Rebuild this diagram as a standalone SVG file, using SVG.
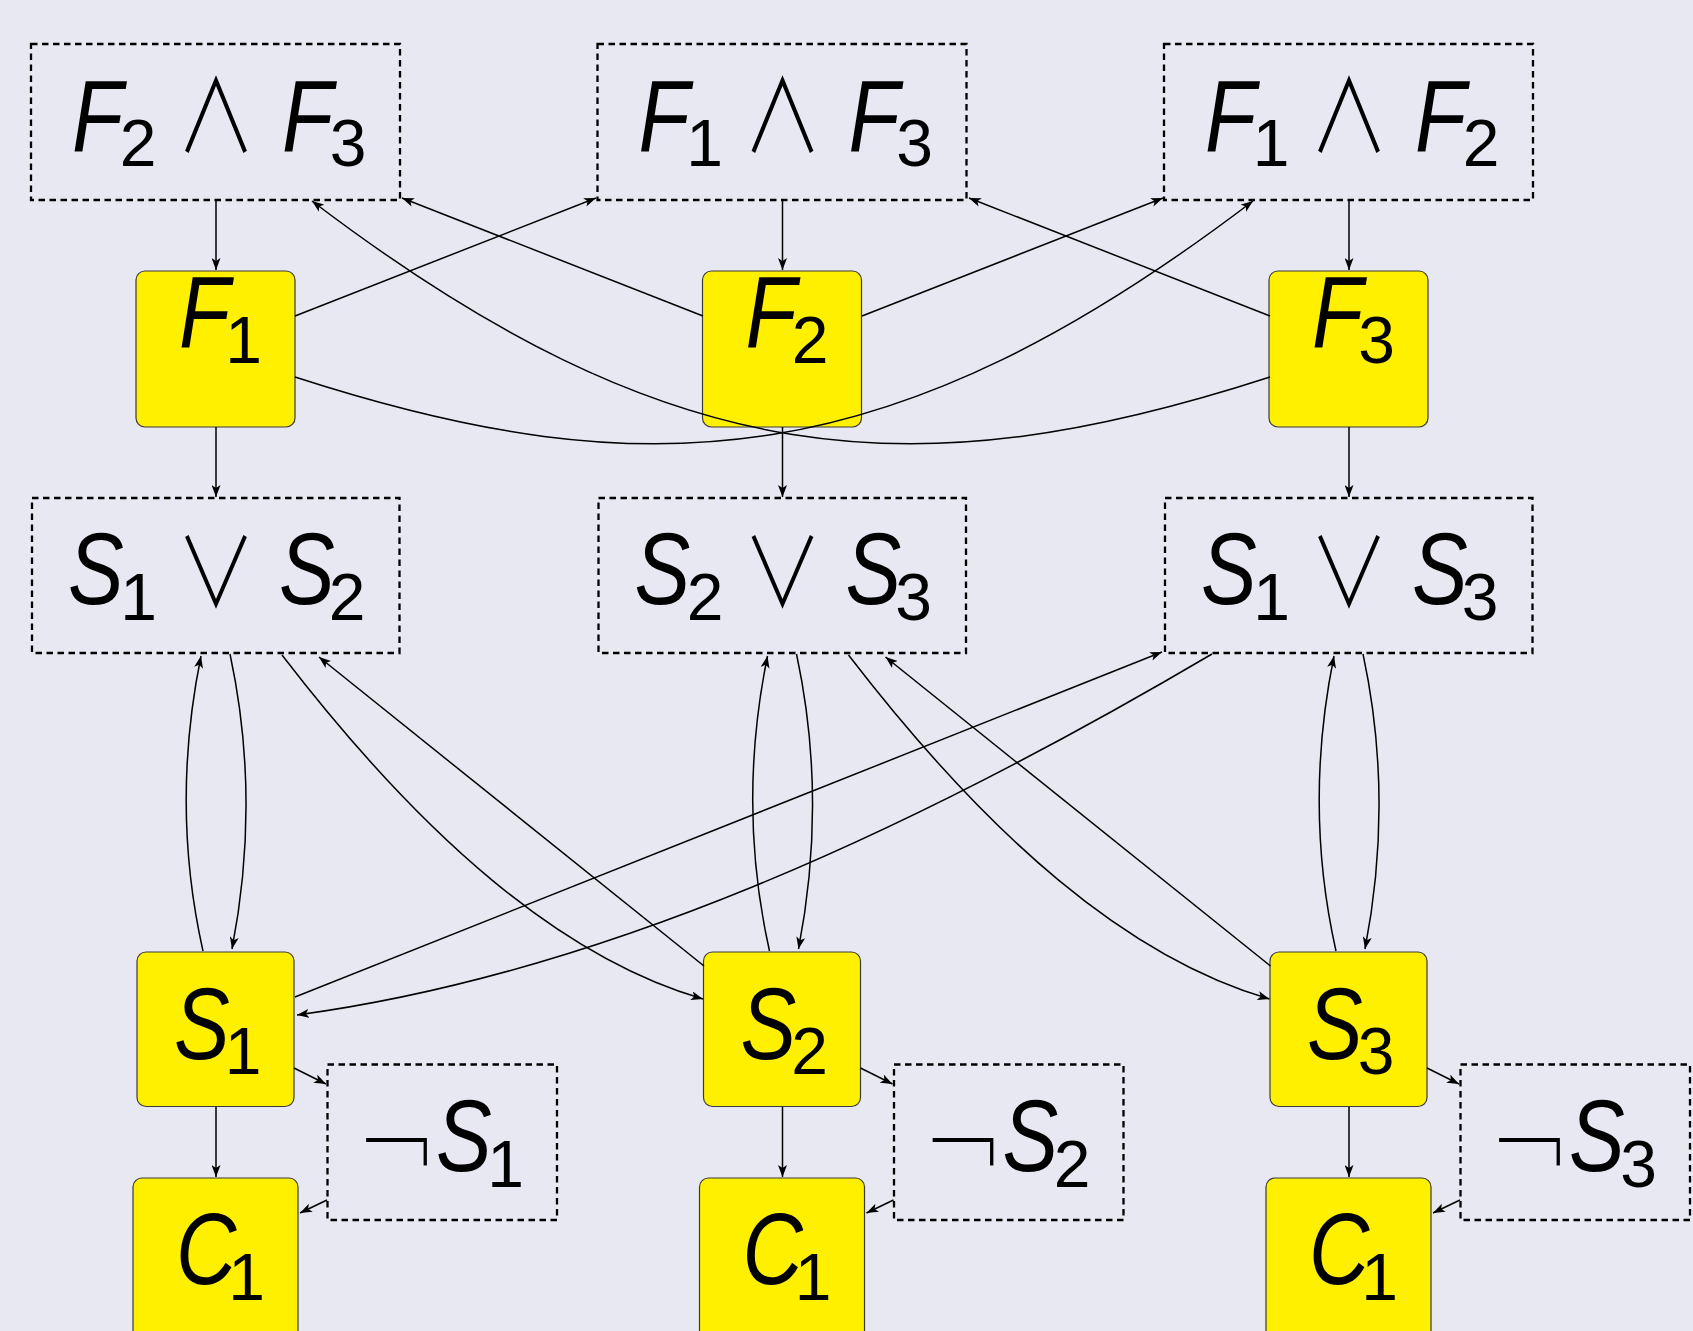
<svg xmlns="http://www.w3.org/2000/svg" width="1693" height="1331" viewBox="0 0 1693 1331">
<style>
.node{fill:#fff000;stroke:#3a3a3a;stroke-width:1.2}
.box{fill:none;stroke:#000;stroke-width:2.3;stroke-dasharray:6.5 4.5}
.e{fill:none;stroke:#000;stroke-width:1.5;marker-end:url(#ah)}
text{font-family:"Liberation Sans",Arial,sans-serif;fill:#000}
.m{font-style:italic;font-size:102px}
.s{font-style:normal;font-size:66px}
.op{font-family:"Noto Sans CJK SC","DejaVu Sans",sans-serif;font-weight:300;font-size:100px;text-anchor:middle}
.neg{font-family:"DejaVu Sans",sans-serif;font-size:120px;stroke:#e8e8f2;stroke-width:6;text-anchor:middle}
</style>
<defs>
<marker id="ah" viewBox="0 0 12 9" refX="12" refY="4.5" markerWidth="12" markerHeight="9" markerUnits="userSpaceOnUse" orient="auto">
<path d="M0,0 L12,4.5 L0,9 L3,4.5 z" fill="#000"/>
</marker>
</defs>
<rect x="0" y="0" width="1693" height="1331" fill="#e8e8f2"/>

<g id="and23">
<rect class="box" x="31" y="44" width="369" height="156"/>
<text class="m" transform="translate(72 152) scale(0.82 1)">F</text><text class="s" x="138" y="166" text-anchor="middle">2</text>
<text class="op" transform="translate(216 152) scale(0.8 1)">∧</text>
<text class="m" transform="translate(282 152) scale(0.82 1)">F</text><text class="s" x="348" y="166" text-anchor="middle">3</text>
</g>
<g id="and13">
<rect class="box" x="597.5" y="44" width="369" height="156"/>
<text class="m" transform="translate(638.5 152) scale(0.82 1)">F</text><text class="s" x="704.5" y="166" text-anchor="middle">1</text>
<text class="op" transform="translate(782.5 152) scale(0.8 1)">∧</text>
<text class="m" transform="translate(848.5 152) scale(0.82 1)">F</text><text class="s" x="914.5" y="166" text-anchor="middle">3</text>
</g>
<g id="and12">
<rect class="box" x="1164" y="44" width="369" height="156"/>
<text class="m" transform="translate(1205 152) scale(0.82 1)">F</text><text class="s" x="1271" y="166" text-anchor="middle">1</text>
<text class="op" transform="translate(1349 152) scale(0.8 1)">∧</text>
<text class="m" transform="translate(1415 152) scale(0.82 1)">F</text><text class="s" x="1481" y="166" text-anchor="middle">2</text>
</g>

<g id="F1">
<rect class="node" x="136" y="271" width="159" height="156" rx="9"/>
<text class="m" transform="translate(179 348) scale(0.82 1)">F</text><text class="s" x="243.5" y="363" text-anchor="middle">1</text>
</g>
<g id="F2">
<rect class="node" x="702.5" y="271" width="159" height="156" rx="9"/>
<text class="m" transform="translate(745.5 348) scale(0.82 1)">F</text><text class="s" x="810" y="363" text-anchor="middle">2</text>
</g>
<g id="F3">
<rect class="node" x="1269" y="271" width="159" height="156" rx="9"/>
<text class="m" transform="translate(1312 348) scale(0.82 1)">F</text><text class="s" x="1376.5" y="363" text-anchor="middle">3</text>
</g>

<g id="or12">
<rect class="box" x="32" y="498" width="367.5" height="155"/>
<text class="m" transform="translate(68 603.5) scale(0.82 1)">S</text><text class="s" x="138.5" y="620" text-anchor="middle">1</text>
<text class="op" transform="translate(216 607) scale(0.8 0.95)">∨</text>
<text class="m" transform="translate(279 603.5) scale(0.82 1)">S</text><text class="s" x="347" y="620" text-anchor="middle">2</text>
</g>
<g id="or23">
<rect class="box" x="598.5" y="498" width="367.5" height="155"/>
<text class="m" transform="translate(634.5 603.5) scale(0.82 1)">S</text><text class="s" x="705" y="620" text-anchor="middle">2</text>
<text class="op" transform="translate(782.5 607) scale(0.8 0.95)">∨</text>
<text class="m" transform="translate(845.5 603.5) scale(0.82 1)">S</text><text class="s" x="913.5" y="620" text-anchor="middle">3</text>
</g>
<g id="or13">
<rect class="box" x="1165" y="498" width="367.5" height="155"/>
<text class="m" transform="translate(1201 603.5) scale(0.82 1)">S</text><text class="s" x="1271.5" y="620" text-anchor="middle">1</text>
<text class="op" transform="translate(1349 607) scale(0.8 0.95)">∨</text>
<text class="m" transform="translate(1412 603.5) scale(0.82 1)">S</text><text class="s" x="1480" y="620" text-anchor="middle">3</text>
</g>

<g id="S1">
<rect class="node" x="137" y="952" width="157" height="154.5" rx="9"/>
<text class="m" transform="translate(174 1058.5) scale(0.82 1)">S</text><text class="s" x="243" y="1074" text-anchor="middle">1</text>
</g>
<g id="S2">
<rect class="node" x="703.5" y="952" width="157" height="154.5" rx="9"/>
<text class="m" transform="translate(740.5 1058.5) scale(0.82 1)">S</text><text class="s" x="809.5" y="1074" text-anchor="middle">2</text>
</g>
<g id="S3">
<rect class="node" x="1270" y="952" width="157" height="154.5" rx="9"/>
<text class="m" transform="translate(1307 1058.5) scale(0.82 1)">S</text><text class="s" x="1376" y="1074" text-anchor="middle">3</text>
</g>

<g id="notS1">
<rect class="box" x="327.5" y="1064.5" width="229.5" height="155.5"/>
<text class="neg" transform="translate(396.5 1185) scale(0.88 1)">¬</text>
<text class="m" transform="translate(436 1170.5) scale(0.82 1)">S</text><text class="s" x="505.5" y="1187" text-anchor="middle">1</text>
</g>
<g id="notS2">
<rect class="box" x="894" y="1064.5" width="229.5" height="155.5"/>
<text class="neg" transform="translate(963 1185) scale(0.88 1)">¬</text>
<text class="m" transform="translate(1002.5 1170.5) scale(0.82 1)">S</text><text class="s" x="1072" y="1187" text-anchor="middle">2</text>
</g>
<g id="notS3">
<rect class="box" x="1460.5" y="1064.5" width="229.5" height="155.5"/>
<text class="neg" transform="translate(1529.5 1185) scale(0.88 1)">¬</text>
<text class="m" transform="translate(1569 1170.5) scale(0.82 1)">S</text><text class="s" x="1638.5" y="1187" text-anchor="middle">3</text>
</g>

<g id="C1a">
<rect class="node" x="133" y="1178" width="165" height="165" rx="9"/>
<text class="m" transform="translate(176 1283.5) scale(0.82 1)">C</text><text class="s" x="246.5" y="1300" text-anchor="middle">1</text>
</g>
<g id="C1b">
<rect class="node" x="699.5" y="1178" width="165" height="165" rx="9"/>
<text class="m" transform="translate(742.5 1283.5) scale(0.82 1)">C</text><text class="s" x="813" y="1300" text-anchor="middle">1</text>
</g>
<g id="C1c">
<rect class="node" x="1266" y="1178" width="165" height="165" rx="9"/>
<text class="m" transform="translate(1309 1283.5) scale(0.82 1)">C</text><text class="s" x="1379.5" y="1300" text-anchor="middle">1</text>
</g>

<g id="connectors">
<path class="e" d="M216,201 V270"/>
<path class="e" d="M782.5,201 V270"/>
<path class="e" d="M1349,201 V270"/>
<path class="e" d="M295,316 L596,198"/>
<path class="e" d="M703,316 L402,198"/>
<path class="e" d="M862,316 L1163,198"/>
<path class="e" d="M1270,316 L969,198"/>
<path class="e" d="M295,377 C650,492 894,474 1253,201"/>
<path class="e" d="M1270,377 C915,492 671,474 312,201"/>
<path class="e" d="M216,427 V497"/>
<path class="e" d="M782.5,427 V497"/>
<path class="e" d="M1349,427 V497"/>

<path class="e" d="M203,951 C181,853 181,754 201,656"/>
<path class="e" d="M230,654 C251,752 251,851 232,949"/>
<path class="e" d="M769.5,951 C747.5,853 747.5,754 767.5,656"/>
<path class="e" d="M796.5,654 C817.5,752 817.5,851 798.5,949"/>
<path class="e" d="M1336,951 C1314,853 1314,754 1334,656"/>
<path class="e" d="M1363,654 C1384,752 1384,851 1365,949"/>

<path class="e" d="M282,655 C422,837 561,958 703,999"/>
<path class="e" d="M704,966 L319,657"/>
<path class="e" d="M848.5,655 C988.5,837 1127.5,958 1269.5,999"/>
<path class="e" d="M1270.5,966 L885.5,657"/>
<path class="e" d="M295,997 L1162,652"/>
<path class="e" d="M1212,654 C908,833 600,974 297,1015"/>

<path class="e" d="M216,1107 V1177"/>
<path class="e" d="M782.5,1107 V1177"/>
<path class="e" d="M1349,1107 V1177"/>
<path class="e" d="M294,1068 L326,1084"/>
<path class="e" d="M860.5,1068 L892.5,1084"/>
<path class="e" d="M1427,1068 L1459,1084"/>
<path class="e" d="M327,1200 L300,1213"/>
<path class="e" d="M893.5,1200 L866.5,1213"/>
<path class="e" d="M1460,1200 L1433,1213"/>
</g>
</svg>
